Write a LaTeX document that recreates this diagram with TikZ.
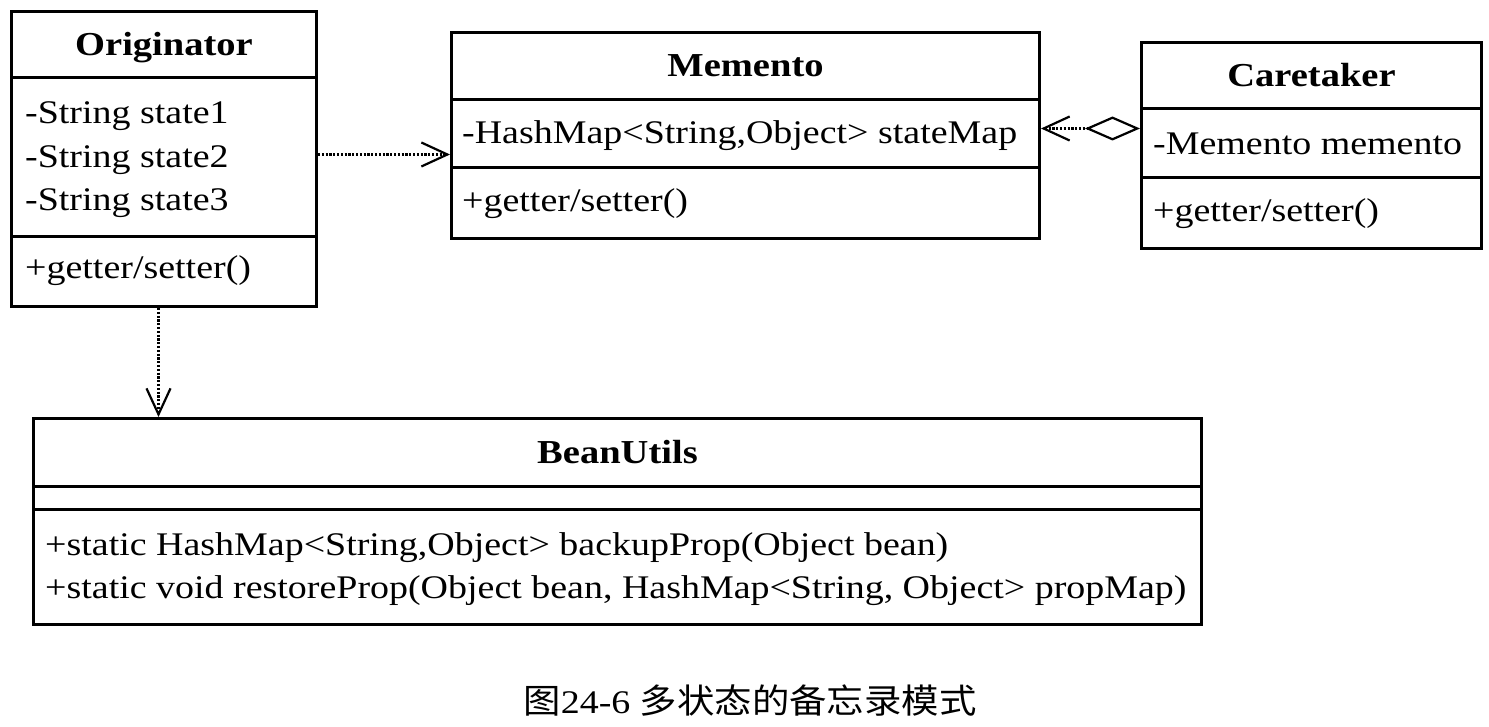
\documentclass[tikz,border=0pt]{standalone}
\usepackage{fontspec}
\setmainfont{Liberation Serif}[FakeStretch=1.15]
\newfontfamily\cjk{Noto Sans CJK SC}[FakeStretch=1.1]
\usetikzlibrary{arrows.meta}
\begin{document}
\begin{tikzpicture}[x=1pt,y=-1pt,
  box/.style={draw, line width=3pt, inner sep=0pt, anchor=north west},
  divider/.style={line width=3pt},
  txt/.style={anchor=base west, inner sep=0pt, font=\fontsize{33}{33}\selectfont},
  ttl/.style={anchor=base, inner sep=0pt, font=\fontsize{33.5}{33.5}\selectfont\bfseries},
  dep/.style={line width=2.8pt, dash pattern=on 2.2pt off 1.6pt,
    -{Straight Barb[length=26pt,width=24pt,line width=2.2pt]}},
  agg/.style={line width=2.8pt, dash pattern=on 2.2pt off 1.6pt,
    {Straight Barb[length=26pt,width=24pt,line width=2.2pt]}-{Diamond[open,length=55pt,width=24pt,line width=2.2pt]}}
]
\useasboundingbox (0,0) rectangle (1489,727);

% Originator
\node[box, minimum width=305pt, minimum height=295pt] (orig) at (10,10) {};
\draw[divider] (orig.west |- 0,78) -- (orig.east |- 0,78);
\draw[divider] (orig.west |- 0,237) -- (orig.east |- 0,237);
\node[ttl] (otitle) at (orig.center |- 0,56) {Originator};
\node[txt] (o1) at (25,124) {-String state1};
\node[txt] (o2) at (25,168) {-String state2};
\node[txt] (o3) at (25,211) {-String state3};
\node[txt] (o4) at (25,279) {+getter/setter()};

% Memento
\node[box, minimum width=588pt, minimum height=206pt] (mem) at (450,31) {};
\draw[divider] (mem.west |- 0,100) -- (mem.east |- 0,100);
\draw[divider] (mem.west |- 0,168) -- (mem.east |- 0,168);
\node[ttl] (mtitle) at (mem.center |- 0,77) {Memento};
\node[txt] (m1) at (462,144) {-HashMap<String,Object> stateMap};
\node[txt] (m2) at (462,212) {+getter/setter()};

% Caretaker
\node[box, minimum width=340pt, minimum height=206pt] (care) at (1140,41) {};
\draw[divider] (care.west |- 0,109) -- (care.east |- 0,109);
\draw[divider] (care.west |- 0,178) -- (care.east |- 0,178);
\node[ttl] (ctitle) at (care.center |- 0,87) {Caretaker};
\node[txt] (c1) at (1153,155) {-Memento memento};
\node[txt] (c2) at (1153,222) {+getter/setter()};

% BeanUtils
\node[box, minimum width=1168pt, minimum height=206pt] (bean) at (32,417) {};
\draw[divider] (bean.west |- 0,486) -- (bean.east |- 0,486);
\draw[divider] (bean.west |- 0,509) -- (bean.east |- 0,509);
\node[ttl] (btitle) at (bean.center |- 0,463) {BeanUtils};
\node[txt] (b1) at (45,555) {+static HashMap<String,Object> backupProp(Object bean)};
\node[txt] (b2) at (45,598) {+static void restoreProp(Object bean, HashMap<String, Object> propMap)};

% connectors
\coordinate (oa) at ([yshift=4.5pt]orig.east);
\draw[dep] (oa) -- (oa -| mem.west);
\coordinate (ob) at ([xshift=-5.5pt]orig.south);
\draw[dep] (ob) -- (ob |- bean.north);
\coordinate (ca) at ([yshift=17pt]care.west);
\draw[agg] (ca -| mem.east) -- (ca);

% caption
\node[anchor=base, inner sep=0pt] (cap) at (750,713)
  {{\cjk\fontsize{34}{34}\selectfont 图}{\fontsize{33}{33}\selectfont 24-6 }{\cjk\fontsize{34}{34}\selectfont 多状态的备忘录模式}};
\end{tikzpicture}
\end{document}
